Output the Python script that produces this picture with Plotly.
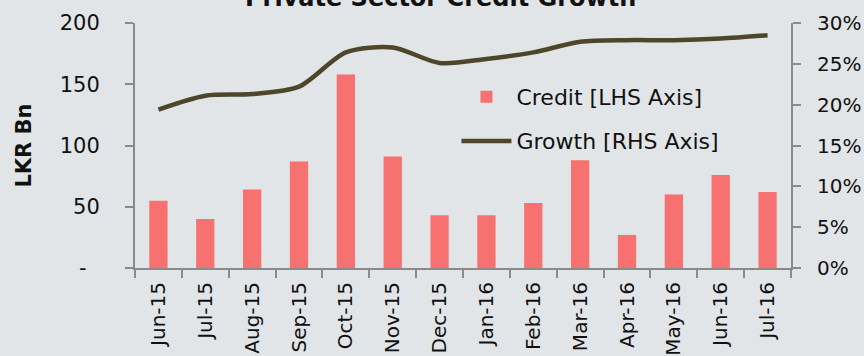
import plotly.graph_objects as go

# Monthly private sector credit (LKR Bn) and year-on-year growth (%)
months = ["Jun-15", "Jul-15", "Aug-15", "Sep-15", "Oct-15", "Nov-15", "Dec-15",
          "Jan-16", "Feb-16", "Mar-16", "Apr-16", "May-16", "Jun-16", "Jul-16"]
credit_bn = [55, 40, 64, 87, 158, 91, 43, 43, 53, 88, 27, 60, 76, 62]
growth_pct = [19.4, 21.1, 21.3, 22.2, 26.4, 27.0, 25.1, 25.6, 26.4, 27.7, 27.9, 27.9, 28.1, 28.5]

# zero on the left axis is shown as an accounting-style dash (drawn separately)
left_ticks = [0, 50, 100, 150, 200]
left_ticktext = ["", "50", "100", "150", "200"]
zero_label = "-"
right_ticks = [0, 5, 10, 15, 20, 25, 30]
right_ticktext = [f"{v}%" for v in right_ticks]

FONT = "DejaVu Sans"
BAR_COLOR = "#f87171"
LINE_COLOR = "#4d462a"
AXIS_COLOR = "#8a8a8a"

fig = go.Figure()
fig.add_trace(go.Bar(
    x=months, y=credit_bn, name="Credit [LHS Axis]",
    marker=dict(color=BAR_COLOR, line=dict(width=0)),
    width=0.39, legend="legend",
))
fig.add_trace(go.Scatter(
    x=months, y=growth_pct, name="Growth [RHS Axis]", yaxis="y2",
    mode="lines", line=dict(color=LINE_COLOR, width=4.5, shape="spline", smoothing=0.8),
    legend="legend2",
))

fig.update_layout(
    width=864, height=356,
    margin=dict(l=135, r=73, t=23, b=88, autoexpand=False),
    paper_bgcolor="#e2e5e7",
    plot_bgcolor="rgba(0,0,0,0)",
    font=dict(family=FONT, size=20, color="#111111"),
    showlegend=True,
    bargap=0.6,
    xaxis=dict(
        type="category", range=[-0.5, 13.5], automargin=False,
        showline=True, linecolor=AXIS_COLOR, linewidth=2,
        ticks="outside", ticklen=8, tickcolor=AXIS_COLOR, tickwidth=2,
        tickson="boundaries", tickangle=-90,
        tickfont=dict(size=20), ticklabelstandoff=4,
        showgrid=False, zeroline=False,
    ),
    yaxis=dict(
        range=[0, 200], tickvals=left_ticks, ticktext=left_ticktext, automargin=False,
        showline=True, linecolor=AXIS_COLOR, linewidth=2,
        ticks="outside", ticklen=8, tickcolor=AXIS_COLOR, tickwidth=2,
        ticklabelstandoff=21, tickfont=dict(size=21),
        showgrid=False, zeroline=False,
        title=dict(text="<b>LKR Bn</b>", font=dict(size=21), standoff=22),
    ),
    yaxis2=dict(
        range=[0, 30], tickvals=right_ticks, ticktext=right_ticktext, automargin=False,
        overlaying="y", side="right",
        showline=True, linecolor=AXIS_COLOR, linewidth=2,
        ticks="outside", ticklen=8, tickcolor=AXIS_COLOR, tickwidth=2,
        ticklabelstandoff=12, tickfont=dict(size=20),
        showgrid=False, zeroline=False,
    ),
    legend=dict(
        x=0.49, y=0.698, xanchor="left", yanchor="middle",
        bgcolor="rgba(0,0,0,0)", font=dict(size=22), itemwidth=50,
    ),
    legend2=dict(
        x=0.49, y=0.518, xanchor="left", yanchor="middle",
        bgcolor="rgba(0,0,0,0)", font=dict(size=22), itemwidth=50,
    ),
    annotations=[
        dict(
            text="<b>Private Sector Credit Growth</b>",
            xref="paper", yref="paper", x=0.466, y=1.037,
            xanchor="center", yanchor="bottom", showarrow=False,
            font=dict(size=24),
        ),
        dict(
            text=zero_label, xref="paper", yref="y", x=0, y=left_ticks[0],
            xanchor="right", yanchor="middle", showarrow=False,
            xshift=-46, font=dict(size=21),
        ),
    ],
)

fig.write_html("out.html")
